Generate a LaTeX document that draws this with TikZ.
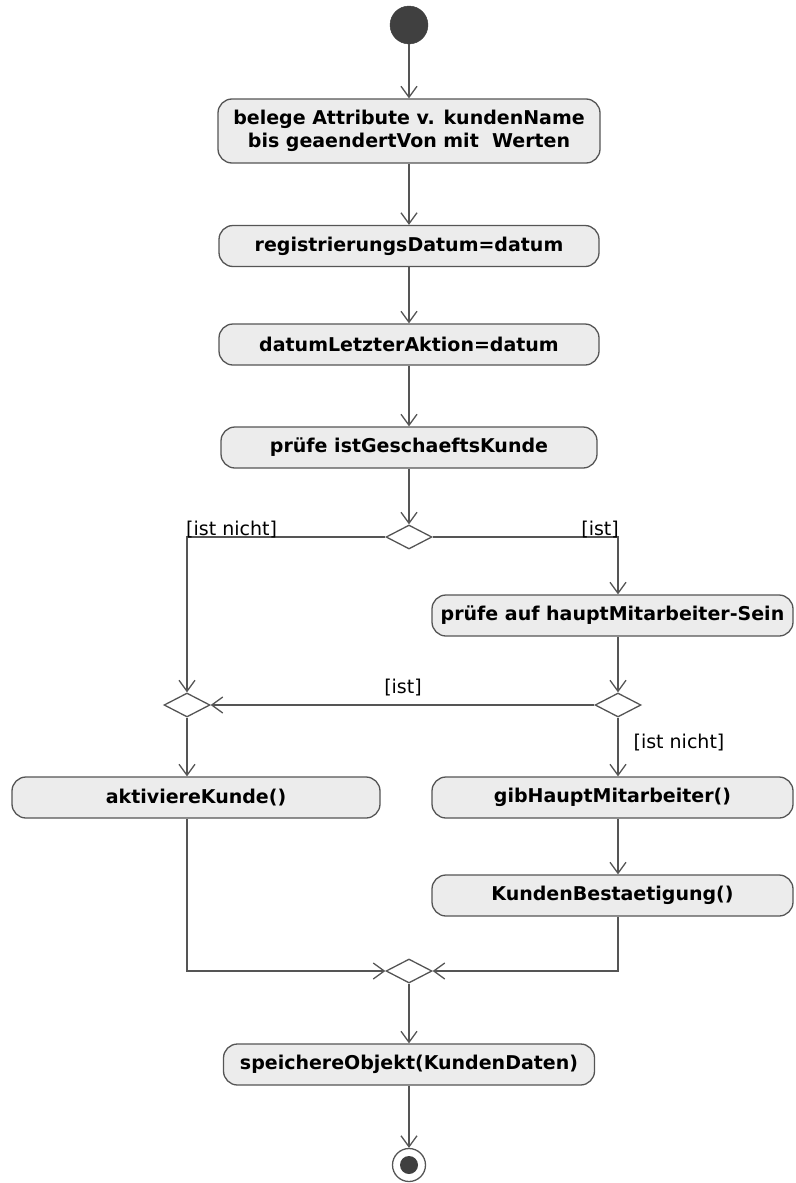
\documentclass[tikz,border=0pt]{standalone}
\usepackage{fontspec}
\setmainfont{DejaVu Sans}
\usetikzlibrary{arrows.meta,shapes.geometric}
\definecolor{lineC}{RGB}{85,85,85}
\definecolor{boxC}{RGB}{236,236,236}
\definecolor{dotC}{RGB}{64,64,64}

\begin{document}
\begin{tikzpicture}[x=1pt,y=-1pt,
  act/.style={draw=lineC, fill=boxC, line width=1.3pt, rounded corners=14pt,
    inner sep=0pt, minimum height=41pt, align=center,
    font=\fontsize{19}{23}\selectfont\bfseries},
  branch/.style={draw=lineC, fill=white, line width=1.3pt, diamond,
    inner sep=0pt, minimum width=46pt, minimum height=24pt},
  flow/.style={draw=lineC, line width=1.3pt,
    -{Straight Barb[length=11pt,width=16pt,line width=1.3pt]}},
  guard/.style={font=\fontsize{19}{22}\selectfont, inner sep=0pt, text=black},
]
\useasboundingbox (0,0) rectangle (795,1183);

% initial node
\node[circle, fill=dotC, draw=dotC, minimum size=38pt, inner sep=0pt] (start) at (409,25) {};

% main column of actions
\node[act, minimum width=382pt, minimum height=64pt] (b1) at (409,131)
  {belege Attribute v. kundenName\\bis geaendertVon mit~ Werten};
\node[act, minimum width=380pt] (b2) at (409,246) {registrierungsDatum=datum};
\node[act, minimum width=380pt] (b3) at (409,344.5) {datumLetzterAktion=datum};
\node[act, minimum width=376pt] (b4) at (409,447.5) {prüfe istGeschaeftsKunde};
\node[branch] (d1) at (409,537) {};

% branches
\node[act, minimum width=361pt] (b5) at (612.5,615.5) {prüfe auf hauptMitarbeiter-Sein};
\node[branch] (d2) at (187,705) {};
\node[branch] (d3) at (618,705) {};
\node[act, minimum width=368pt] (b6) at (196,797.5) {aktiviereKunde()};
\node[act, minimum width=361pt] (b7) at (612.5,797.5) {gibHauptMitarbeiter()};
\node[act, minimum width=361pt] (b8) at (612.5,895.5) {KundenBestaetigung()};

% merge and end
\node[branch] (d4) at (409,971) {};
\node[act, minimum width=371pt] (b9) at (409,1064.5) {speichereObjekt(KundenDaten)};
\node[circle, draw=lineC, fill=white, line width=1.3pt, minimum size=33pt, inner sep=0pt] (endring) at (409,1165) {};
\node[circle, fill=dotC, minimum size=18pt, inner sep=0pt] (enddot) at (endring.center) {};

% control flow
\draw[flow] (start) -- (b1);
\draw[flow] (b1) -- (b2);
\draw[flow] (b2) -- (b3);
\draw[flow] (b3) -- (b4);
\draw[flow] (b4) -- (d1);
\draw[flow] (d1.east) -| (d3 |- b5.north);
\draw[flow] (d1.west) -| (d2.north);
\draw[flow] (d3 |- b5.south) -- (d3.north);
\draw[flow] (d3.west) -- (d2.east);
\draw[flow] (d2.south) -- (d2 |- b6.north);
\draw[flow] (d3.south) -- (d3 |- b7.north);
\draw[flow] (d3 |- b7.south) -- (d3 |- b8.north);
\draw[flow] (d2 |- b6.south) |- (d4.west);
\draw[flow] (d3 |- b8.south) |- (d4.east);
\draw[flow] (d4) -- (b9);
\draw[flow] (b9) -- (endring);

% guards
\node[guard, anchor=south west] (g1) at (186,538) {[ist nicht]};
\node[guard, anchor=south east] (g2) at (619,538) {[ist]};
\node[guard] (g3) at (403,688) {[ist]};
\node[guard] (g4) at (679,743) {[ist nicht]};
\end{tikzpicture}
\end{document}
